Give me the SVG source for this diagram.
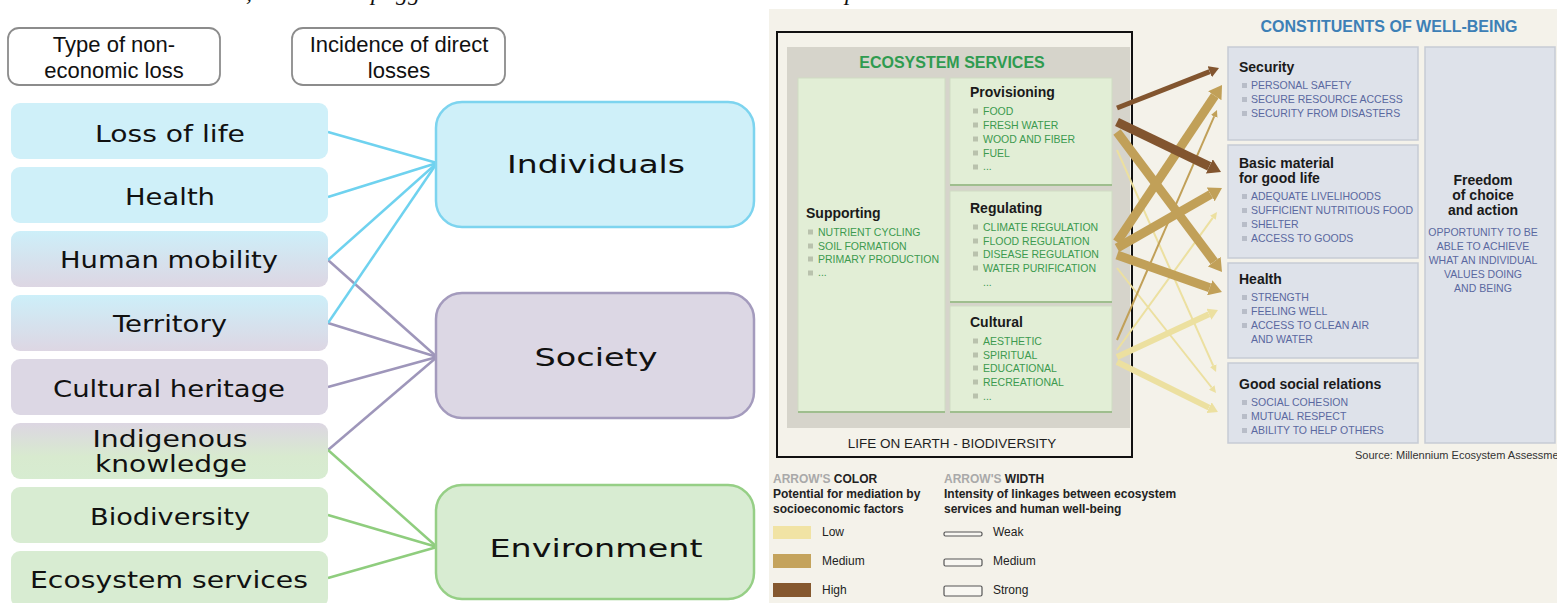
<svg xmlns="http://www.w3.org/2000/svg" width="1557" height="603" viewBox="0 0 1557 603">
  <style>
    .hdr { fill: #ffffff; stroke: #8c8c8c; stroke-width: 1.8; }
    .hdr-t { font-family: "Liberation Sans", Arial, sans-serif; font-size: 22px; fill: #111; text-anchor: middle; }
    .cat-t { font-family: "DejaVu Sans", Verdana, sans-serif; font-size: 23px; fill: #111; text-anchor: middle; }
    .tgt-t { font-family: "DejaVu Sans", Verdana, sans-serif; font-size: 25px; fill: #111; text-anchor: middle; }
    .c-blue { stroke: #6fd2ef; stroke-width: 2.5; fill: none; }
    .c-purple { stroke: #9e96ba; stroke-width: 2.5; fill: none; }
    .c-green { stroke: #8fcd7e; stroke-width: 2.5; fill: none; }
    .es-box { fill: #e2eed6; stroke: #cfdcc3; stroke-width: 1; }
    .es-shadow { stroke: #9fbe8e; stroke-width: 2; }
    .wb-box { fill: #dee2ea; stroke: #c6cbd5; stroke-width: 1.5; }
    .h { font-family: "Liberation Sans", Arial, sans-serif; font-size: 14px; font-weight: bold; fill: #1a1a1a; }
    .gi { font-family: "Liberation Sans", Arial, sans-serif; font-size: 10.5px; fill: #3c9a4f; }
    .bi { font-family: "Liberation Sans", Arial, sans-serif; font-size: 10.5px; fill: #5a68a0; }
    .gsq { fill: #b9c2ad; }
    .bsq { fill: #b8bdc8; }
    .lg { font-family: "Liberation Sans", Arial, sans-serif; font-size: 12px; font-weight: bold; fill: #222; }
    .lg-grey { fill: #a9a9a9; }
    .lg-r { font-family: "Liberation Sans", Arial, sans-serif; font-size: 12px; fill: #222; }
    .arr { fill: none; stroke-linecap: butt; }
  </style>
  <defs>
    <linearGradient id="g-blue-purple" x1="0" y1="0" x2="0" y2="1">
      <stop offset="0" stop-color="#cdeff9"/>
      <stop offset="1" stop-color="#ddd6e3"/>
    </linearGradient>
    <linearGradient id="g-purple-green" x1="0" y1="0" x2="0" y2="1">
      <stop offset="0" stop-color="#dcd6e2"/>
      <stop offset="0.6" stop-color="#d8eacf"/>
      <stop offset="1" stop-color="#d7ecd1"/>
    </linearGradient>
    <marker id="ah-dark-m" viewBox="0 -6 10 12" refX="0" refY="0" markerWidth="10" markerHeight="12" markerUnits="userSpaceOnUse" orient="auto">
      <path d="M0,-6L10,0L0,6z" fill="#82552f"/>
    </marker>
    <marker id="ah-dark-l" viewBox="0 -8 13 16" refX="0" refY="0" markerWidth="13" markerHeight="16" markerUnits="userSpaceOnUse" orient="auto">
      <path d="M0,-8L13,0L0,8z" fill="#82552f"/>
    </marker>
    <marker id="ah-tan-l" viewBox="0 -8 13 16" refX="0" refY="0" markerWidth="13" markerHeight="16" markerUnits="userSpaceOnUse" orient="auto">
      <path d="M0,-8L13,0L0,8z" fill="#c1a058"/>
    </marker>
    <marker id="ah-tan-s" viewBox="0 -3.5 7 7" refX="0" refY="0" markerWidth="7" markerHeight="7" markerUnits="userSpaceOnUse" orient="auto">
      <path d="M0,-3.5L7,0L0,3.5z" fill="#c1a058"/>
    </marker>
    <marker id="ah-lite-s" viewBox="0 -3.5 7 7" refX="0" refY="0" markerWidth="7" markerHeight="7" markerUnits="userSpaceOnUse" orient="auto">
      <path d="M0,-3.5L7,0L0,3.5z" fill="#ece0a0"/>
    </marker>
    <marker id="ah-lite-m" viewBox="0 -6 10 12" refX="0" refY="0" markerWidth="10" markerHeight="12" markerUnits="userSpaceOnUse" orient="auto">
      <path d="M0,-6L10,0L0,6z" fill="#ece0a0"/>
    </marker>
  </defs>

  <rect x="0" y="0" width="1557" height="603" fill="#ffffff"/>

  <!-- caption line running off the top edge -->
  <g id="caption" font-family="Liberation Serif, serif" font-style="italic" font-size="24" fill="#111">
    <text x="246" y="0">,</text>
    <text x="371" y="0">p</text>
    <text x="396" y="0">gg</text>
    <text x="845" y="0">p</text>
  </g>

  <!-- ===== Left: non-economic loss categories ===== -->
  <g id="hdr-type">
    <rect class="hdr" x="8" y="28" width="212" height="57" rx="11"/>
    <text class="hdr-t" x="114" y="52">Type of non-</text>
    <text class="hdr-t" x="114" y="78">economic loss</text>
  </g>
  <g id="hdr-incidence">
    <rect class="hdr" x="292" y="28" width="213" height="57" rx="11"/>
    <text class="hdr-t" x="399" y="52">Incidence of direct</text>
    <text class="hdr-t" x="399" y="78">losses</text>
  </g>

  <g id="connectors">
    <line class="c-blue" x1="328" y1="132" x2="437" y2="163"/>
    <line class="c-blue" x1="328" y1="197" x2="437" y2="163"/>
    <line class="c-purple" x1="328" y1="260" x2="437" y2="357"/>
    <line class="c-blue" x1="328" y1="260" x2="437" y2="163"/>
    <line class="c-purple" x1="328" y1="323" x2="437" y2="357"/>
    <line class="c-blue" x1="328" y1="323" x2="437" y2="163"/>
    <line class="c-purple" x1="328" y1="387" x2="437" y2="357"/>
    <line class="c-purple" x1="328" y1="450" x2="437" y2="357"/>
    <line class="c-green" x1="328" y1="450" x2="437" y2="547"/>
    <line class="c-green" x1="328" y1="515" x2="437" y2="547"/>
    <line class="c-green" x1="328" y1="578" x2="437" y2="547"/>
  </g>

  <g id="loss-of-life">
    <rect x="11" y="103" width="317" height="56" rx="9" fill="#cff0f9"/>
    <text class="cat-t" x="170" y="142" textLength="150" lengthAdjust="spacingAndGlyphs">Loss of life</text>
  </g>
  <g id="health">
    <rect x="11" y="167" width="317" height="56" rx="9" fill="#cff0f9"/>
    <text class="cat-t" x="170" y="205" textLength="90" lengthAdjust="spacingAndGlyphs">Health</text>
  </g>
  <g id="human-mobility">
    <rect x="11" y="231" width="317" height="56" rx="9" fill="url(#g-blue-purple)"/>
    <text class="cat-t" x="169" y="268" textLength="218" lengthAdjust="spacingAndGlyphs">Human mobility</text>
  </g>
  <g id="territory">
    <rect x="11" y="295" width="317" height="56" rx="9" fill="url(#g-blue-purple)"/>
    <text class="cat-t" x="170" y="332" textLength="114" lengthAdjust="spacingAndGlyphs">Territory</text>
  </g>
  <g id="cultural-heritage">
    <rect x="11" y="359" width="317" height="56" rx="9" fill="#dcd7e4"/>
    <text class="cat-t" x="169" y="397" textLength="232" lengthAdjust="spacingAndGlyphs">Cultural heritage</text>
  </g>
  <g id="indigenous-knowledge">
    <rect x="11" y="423" width="317" height="56" rx="9" fill="url(#g-purple-green)"/>
    <text class="cat-t" x="170" y="447" textLength="155" lengthAdjust="spacingAndGlyphs">Indigenous</text>
    <text class="cat-t" x="171" y="472" textLength="152" lengthAdjust="spacingAndGlyphs">knowledge</text>
  </g>
  <g id="biodiversity">
    <rect x="11" y="487" width="317" height="56" rx="9" fill="#d8ecd2"/>
    <text class="cat-t" x="170" y="525" textLength="160" lengthAdjust="spacingAndGlyphs">Biodiversity</text>
  </g>
  <g id="ecosystem-services">
    <rect x="11" y="551" width="317" height="56" rx="9" fill="#d8ecd2"/>
    <text class="cat-t" x="169" y="588" textLength="278" lengthAdjust="spacingAndGlyphs">Ecosystem services</text>
  </g>

  <g id="individuals">
    <rect x="436" y="102" width="318" height="125" rx="26" fill="#cff0f9" stroke="#7dd4ef" stroke-width="2.5"/>
    <text class="tgt-t" x="596" y="173" textLength="178" lengthAdjust="spacingAndGlyphs">Individuals</text>
  </g>
  <g id="society">
    <rect x="436" y="293" width="318" height="125" rx="26" fill="#dcd7e4" stroke="#a49bbd" stroke-width="2.5"/>
    <text class="tgt-t" x="596" y="366" textLength="123" lengthAdjust="spacingAndGlyphs">Society</text>
  </g>
  <g id="environment">
    <rect x="436" y="485" width="318" height="114" rx="26" fill="#d8ecd2" stroke="#96cf86" stroke-width="2.5"/>
    <text class="tgt-t" x="596" y="557" textLength="213" lengthAdjust="spacingAndGlyphs">Environment</text>
  </g>

  <!-- ===== Right: ecosystem services and human well-being ===== -->
  <rect x="769" y="9" width="788" height="594" fill="#f4f2ea"/>

  <g id="ecosystem-frame">
    <rect x="777" y="32" width="355" height="425" fill="#f4f2ea" stroke="#111" stroke-width="2"/>
    <rect x="787" y="47" width="343" height="381" fill="#d6d4cb"/>
    <text x="952" y="68" text-anchor="middle" font-family="Liberation Sans, Arial, sans-serif" font-size="16" font-weight="bold" fill="#2f9b50">ECOSYSTEM SERVICES</text>
    <text x="952" y="448" text-anchor="middle" font-family="Liberation Sans, Arial, sans-serif" font-size="13.5" fill="#1e1e1e">LIFE ON EARTH - BIODIVERSITY</text>
  </g>

  <g id="supporting">
    <rect class="es-box" x="798" y="78" width="147" height="334"/>
    <line class="es-shadow" x1="798" y1="412" x2="945" y2="412"/>
    <text class="h" x="806" y="218">Supporting</text>
    <rect class="gsq" x="808" y="229.5" width="5" height="5"/><text class="gi" x="818" y="236">NUTRIENT CYCLING</text>
    <rect class="gsq" x="808" y="243.5" width="5" height="5"/><text class="gi" x="818" y="250">SOIL FORMATION</text>
    <rect class="gsq" x="808" y="256.5" width="5" height="5"/><text class="gi" x="818" y="263">PRIMARY PRODUCTION</text>
    <rect class="gsq" x="808" y="270.5" width="5" height="5"/><text class="gi" x="818" y="276">...</text>
  </g>
  <g id="provisioning">
    <rect class="es-box" x="950" y="78" width="162" height="107"/>
    <line class="es-shadow" x1="950" y1="185" x2="1112" y2="185"/>
    <text class="h" x="970" y="97">Provisioning</text>
    <rect class="gsq" x="973" y="108.5" width="5" height="5"/><text class="gi" x="983" y="115">FOOD</text>
    <rect class="gsq" x="973" y="122.5" width="5" height="5"/><text class="gi" x="983" y="129">FRESH WATER</text>
    <rect class="gsq" x="973" y="136.5" width="5" height="5"/><text class="gi" x="983" y="143">WOOD AND FIBER</text>
    <rect class="gsq" x="973" y="150.5" width="5" height="5"/><text class="gi" x="983" y="157">FUEL</text>
    <rect class="gsq" x="973" y="164.5" width="5" height="5"/><text class="gi" x="983" y="170">...</text>
  </g>
  <g id="regulating">
    <rect class="es-box" x="950" y="191" width="162" height="111"/>
    <line class="es-shadow" x1="950" y1="302" x2="1112" y2="302"/>
    <text class="h" x="970" y="213">Regulating</text>
    <rect class="gsq" x="973" y="224.5" width="5" height="5"/><text class="gi" x="983" y="231">CLIMATE REGULATION</text>
    <rect class="gsq" x="973" y="238.5" width="5" height="5"/><text class="gi" x="983" y="245">FLOOD REGULATION</text>
    <rect class="gsq" x="973" y="251.5" width="5" height="5"/><text class="gi" x="983" y="258">DISEASE REGULATION</text>
    <rect class="gsq" x="973" y="265.5" width="5" height="5"/><text class="gi" x="983" y="272">WATER PURIFICATION</text>
    <text class="gi" x="983" y="286">...</text>
  </g>
  <g id="cultural">
    <rect class="es-box" x="950" y="306" width="162" height="106"/>
    <line class="es-shadow" x1="950" y1="412" x2="1112" y2="412"/>
    <text class="h" x="970" y="327">Cultural</text>
    <rect class="gsq" x="973" y="338.5" width="5" height="5"/><text class="gi" x="983" y="345">AESTHETIC</text>
    <rect class="gsq" x="973" y="352.5" width="5" height="5"/><text class="gi" x="983" y="359">SPIRITUAL</text>
    <rect class="gsq" x="973" y="365.5" width="5" height="5"/><text class="gi" x="983" y="372">EDUCATIONAL</text>
    <rect class="gsq" x="973" y="379.5" width="5" height="5"/><text class="gi" x="983" y="386">RECREATIONAL</text>
    <rect class="gsq" x="973" y="393.5" width="5" height="5"/><text class="gi" x="983" y="400">...</text>
  </g>

  <g id="wellbeing-title">
    <text x="1389" y="32" text-anchor="middle" font-family="Liberation Sans, Arial, sans-serif" font-size="16" font-weight="bold" fill="#3d80b6">CONSTITUENTS OF WELL-BEING</text>
  </g>
  <g id="security">
    <rect class="wb-box" x="1228" y="47" width="190" height="93"/>
    <text class="h" x="1239" y="72">Security</text>
    <rect class="bsq" x="1242" y="83" width="5" height="5"/><text class="bi" x="1251" y="89">PERSONAL SAFETY</text>
    <rect class="bsq" x="1242" y="97" width="5" height="5"/><text class="bi" x="1251" y="103">SECURE RESOURCE ACCESS</text>
    <rect class="bsq" x="1242" y="111" width="5" height="5"/><text class="bi" x="1251" y="117">SECURITY FROM DISASTERS</text>
  </g>
  <g id="basic-material">
    <rect class="wb-box" x="1228" y="145" width="190" height="113"/>
    <text class="h" x="1239" y="168">Basic material</text>
    <text class="h" x="1239" y="183">for good life</text>
    <rect class="bsq" x="1242" y="194" width="5" height="5"/><text class="bi" x="1251" y="200">ADEQUATE LIVELIHOODS</text>
    <rect class="bsq" x="1242" y="208" width="5" height="5"/><text class="bi" x="1251" y="214">SUFFICIENT NUTRITIOUS FOOD</text>
    <rect class="bsq" x="1242" y="222" width="5" height="5"/><text class="bi" x="1251" y="228">SHELTER</text>
    <rect class="bsq" x="1242" y="236" width="5" height="5"/><text class="bi" x="1251" y="242">ACCESS TO GOODS</text>
  </g>
  <g id="health-wb">
    <rect class="wb-box" x="1228" y="263" width="190" height="95"/>
    <text class="h" x="1239" y="284">Health</text>
    <rect class="bsq" x="1242" y="295" width="5" height="5"/><text class="bi" x="1251" y="301">STRENGTH</text>
    <rect class="bsq" x="1242" y="309" width="5" height="5"/><text class="bi" x="1251" y="315">FEELING WELL</text>
    <rect class="bsq" x="1242" y="323" width="5" height="5"/><text class="bi" x="1251" y="329">ACCESS TO CLEAN AIR</text>
    <text class="bi" x="1251" y="343">AND WATER</text>
  </g>
  <g id="social-relations">
    <rect class="wb-box" x="1228" y="363" width="190" height="80"/>
    <text class="h" x="1239" y="389">Good social relations</text>
    <rect class="bsq" x="1242" y="400" width="5" height="5"/><text class="bi" x="1251" y="406">SOCIAL COHESION</text>
    <rect class="bsq" x="1242" y="414" width="5" height="5"/><text class="bi" x="1251" y="420">MUTUAL RESPECT</text>
    <rect class="bsq" x="1242" y="428" width="5" height="5"/><text class="bi" x="1251" y="434">ABILITY TO HELP OTHERS</text>
  </g>
  <g id="freedom">
    <rect class="wb-box" x="1425" y="47" width="130" height="396"/>
    <g text-anchor="middle">
      <text class="h" x="1483" y="185">Freedom</text>
      <text class="h" x="1483" y="200">of choice</text>
      <text class="h" x="1483" y="215">and action</text>
      <text class="bi" x="1483" y="236" fill="#4a69b2">OPPORTUNITY TO BE</text>
      <text class="bi" x="1483" y="250" fill="#4a69b2">ABLE TO ACHIEVE</text>
      <text class="bi" x="1483" y="264" fill="#4a69b2">WHAT AN INDIVIDUAL</text>
      <text class="bi" x="1483" y="278" fill="#4a69b2">VALUES DOING</text>
      <text class="bi" x="1483" y="292" fill="#4a69b2">AND BEING</text>
    </g>
  </g>
  <text x="1355" y="459" font-family="Liberation Sans, Arial, sans-serif" font-size="11" fill="#333">Source: Millennium Ecosystem Assessment</text>

  <!-- linkage arrows: service -> constituent -->
  <g id="linkage-arrows" class="arr">
    <line x1="1117" y1="150" x2="1213.2" y2="365.6" stroke="#ece0a0" stroke-width="2" marker-end="url(#ah-lite-s)"/>
    <line x1="1117" y1="268" x2="1211.7" y2="387.5" stroke="#ece0a0" stroke-width="2" marker-end="url(#ah-lite-s)"/>
    <line x1="1117" y1="350" x2="1212.9" y2="217.7" stroke="#ece0a0" stroke-width="2" marker-end="url(#ah-lite-s)"/>
    <line x1="1117" y1="357" x2="1208.9" y2="314.2" stroke="#ece0a0" stroke-width="6" marker-end="url(#ah-lite-m)"/>
    <line x1="1117" y1="362" x2="1209.0" y2="407.6" stroke="#ece0a0" stroke-width="6" marker-end="url(#ah-lite-m)"/>
    <line x1="1117" y1="340" x2="1214.2" y2="116.4" stroke="#c1a058" stroke-width="2" marker-end="url(#ah-tan-s)"/>
    <line x1="1117" y1="132" x2="1214.2" y2="261.6" stroke="#c1a058" stroke-width="9" marker-end="url(#ah-tan-l)"/>
    <line x1="1117" y1="242" x2="1214.8" y2="95.8" stroke="#c1a058" stroke-width="9" marker-end="url(#ah-tan-l)"/>
    <line x1="1117" y1="248" x2="1210.7" y2="194.4" stroke="#c1a058" stroke-width="9" marker-end="url(#ah-tan-l)"/>
    <line x1="1117" y1="255" x2="1209.7" y2="287.7" stroke="#c1a058" stroke-width="9" marker-end="url(#ah-tan-l)"/>
    <line x1="1117" y1="108" x2="1209.7" y2="71.7" stroke="#82552f" stroke-width="5" marker-end="url(#ah-dark-m)"/>
    <line x1="1117" y1="122" x2="1209.3" y2="166.4" stroke="#82552f" stroke-width="9" marker-end="url(#ah-dark-l)"/>
  </g>

  <!-- legend -->
  <g id="legend-colour">
    <text class="lg" x="773" y="483"><tspan class="lg-grey">ARROW'S </tspan>COLOR</text>
    <text class="lg" x="773" y="498">Potential for mediation by</text>
    <text class="lg" x="773" y="513">socioeconomic factors</text>
    <rect x="773" y="526" width="38" height="13" fill="#f1e3a4"/>
    <text class="lg-r" x="822" y="536">Low</text>
    <rect x="773" y="554" width="38" height="14" fill="#c4a35c"/>
    <text class="lg-r" x="822" y="565">Medium</text>
    <rect x="773" y="583" width="38" height="14" fill="#85582f"/>
    <text class="lg-r" x="822" y="594">High</text>
  </g>
  <g id="legend-width">
    <text class="lg" x="944" y="483"><tspan class="lg-grey">ARROW'S </tspan>WIDTH</text>
    <text class="lg" x="944" y="498">Intensity of linkages between ecosystem</text>
    <text class="lg" x="944" y="513">services and human well-being</text>
    <rect x="944" y="532" width="38" height="4" rx="1.5" fill="#f8f7f2" stroke="#555" stroke-width="1.2"/>
    <text class="lg-r" x="993" y="536">Weak</text>
    <rect x="944" y="559" width="38" height="7" rx="1.5" fill="#f8f7f2" stroke="#555" stroke-width="1.2"/>
    <text class="lg-r" x="993" y="565">Medium</text>
    <rect x="944" y="586" width="38" height="10" rx="1.5" fill="#f8f7f2" stroke="#555" stroke-width="1.2"/>
    <text class="lg-r" x="993" y="594">Strong</text>
  </g>
</svg>
